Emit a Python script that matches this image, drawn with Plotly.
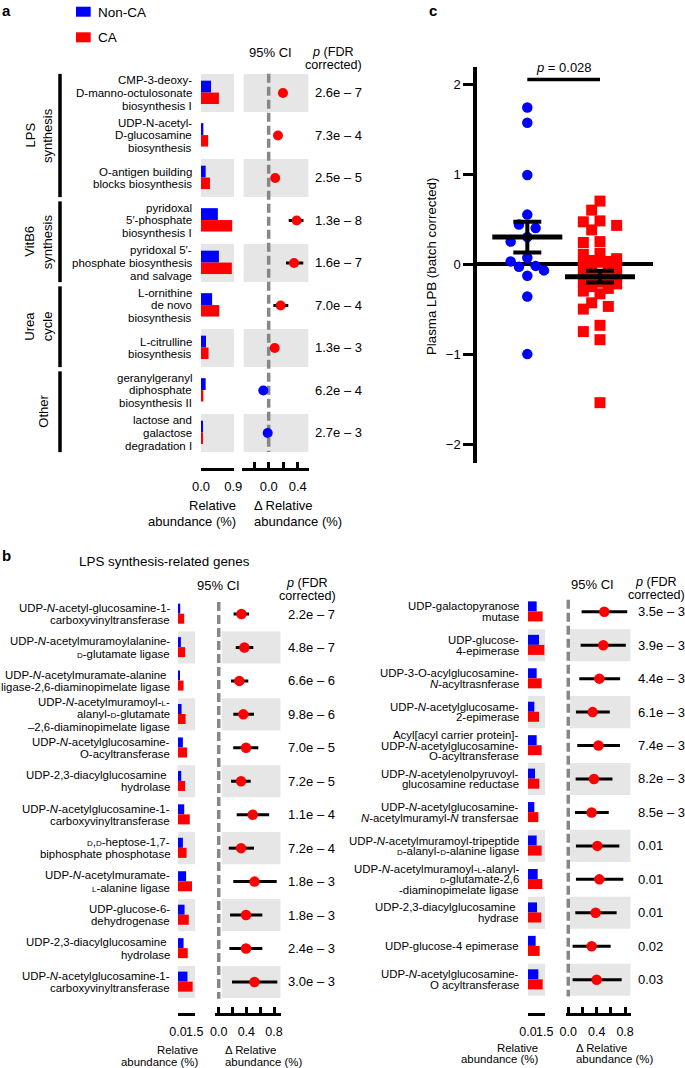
import plotly.graph_objects as go

W, H = 685, 1068
def X(px): return px / W
def Y(py): return 1 - py / H

FONT = "Liberation Sans, Arial, Helvetica, sans-serif"
BLUE = "#0000ff"
RED = "#ff0000"
BAND = "#e6e6e6"
DASHC = "#878787"
SC = '<span style="font-size:8px">{}</span>'

# ---------------- panel a data ----------------
a_labels = [
    ["CMP-3-deoxy-", "D-manno-octulosonate", "biosynthesis I"],
    ["UDP-N-acetyl-", "D-glucosamine", "biosynthesis"],
    ["O-antigen building", "blocks biosynthesis"],
    ["pyridoxal", "5\u2032-phosphate", "biosynthesis I"],
    ["pyridoxal 5\u2032-", "phosphate biosynthesis", "and salvage"],
    ["L-ornithine", "de novo", "biosynthesis"],
    ["L-citrulline", "biosynthesis"],
    ["geranylgeranyl", "diphosphate", "biosynthesis II"],
    ["lactose and", "galactose", "degradation I"],
]
a_groups = [["LPS", "synthesis"], ["VitB6", "synthesis"], ["Urea", "cycle"], ["Other"]]
a_group_rows = [(0, 2), (3, 4), (5, 6), (7, 8)]
a_nonca = [0.28, 0.065, 0.13, 0.47, 0.50, 0.31, 0.14, 0.13, 0.05]
a_ca = [0.50, 0.20, 0.25, 0.87, 0.86, 0.51, 0.21, 0.065, 0.03]
a_delta = [0.197, 0.128, 0.090, 0.386, 0.350, 0.165, 0.083, -0.074, -0.014]
a_lo = [0.160, 0.090, 0.050, 0.276, 0.239, 0.064, 0.045, -0.110, -0.050]
a_hi = [0.235, 0.165, 0.130, 0.480, 0.477, 0.270, 0.120, -0.040, 0.020]
a_p = ["2.6e \u2013 7", "7.3e \u2013 4", "2.5e \u2013 5", "1.3e \u2013 8", "1.6e \u2013 7",
       "7.0e \u2013 4", "1.3e \u2013 3", "6.2e \u2013 4", "2.7e \u2013 3"]

# ---------------- panel b data ----------------
bl_labels = [
    ["UDP-<i>N</i>-acetyl-glucosamine-1-", "carboxyvinyltransferase"],
    ["UDP-<i>N</i>-acetylmuramoylalanine-", SC.format("D") + "-glutamate ligase"],
    ["UDP-<i>N</i>-acetylmuramate-alanine\u00a0", "ligase-2,6-diaminopimelate ligase"],
    ["UDP-<i>N</i>-acetylmuramoyl-" + SC.format("L") + "-", "alanyl-" + SC.format("D") + "-glutamate", "\u20132,6-diaminopimelate ligase"],
    ["UDP-<i>N</i>-acetylglucosamine-", "O-acyltransferase"],
    ["UDP-2,3-diacylglucosamine\u00a0", "hydrolase"],
    ["UDP-<i>N</i>-acetylglucosamine-1-", "carboxyvinyltransferase"],
    [SC.format("D") + "," + SC.format("D") + "-heptose-1,7-", "biphosphate phosphotase"],
    ["UDP-<i>N</i>-acetylmuramate-", SC.format("L") + "-alanine ligase"],
    ["UDP-glucose-6-", "dehydrogenase"],
    ["UDP-2,3-diacylglucosamine\u00a0", "hydrolase"],
    ["UDP-<i>N</i>-acetylglucosamine-1-", "carboxyvinyltransferase"],
]
bl_nonca = [0.20, 0.26, 0.18, 0.32, 0.44, 0.29, 0.56, 0.44, 0.73, 0.59, 0.50, 0.85]
bl_ca = [0.56, 0.64, 0.50, 0.68, 0.82, 0.64, 1.06, 0.77, 1.26, 0.97, 0.88, 1.32]
bl_delta = [0.328, 0.371, 0.298, 0.356, 0.395, 0.323, 0.492, 0.323, 0.518, 0.395, 0.395, 0.518]
bl_lo = [0.215, 0.246, 0.178, 0.211, 0.210, 0.178, 0.260, 0.145, 0.211, 0.164, 0.154, 0.192]
bl_hi = [0.440, 0.500, 0.428, 0.511, 0.573, 0.463, 0.730, 0.511, 0.839, 0.631, 0.631, 0.848]
bl_p = ["2.2e \u2013 7", "4.8e \u2013 7", "6.6e \u2013 6", "9.8e \u2013 6", "7.0e \u2013 5", "7.2e \u2013 5",
        "1.1e \u2013 4", "7.2e \u2013 4", "1.8e \u2013 3", "1.8e \u2013 3", "2.4e \u2013 3", "3.0e \u2013 3"]

br_labels = [
    ["UDP-galactopyranose", "mutase"],
    ["UDP-glucose-", "4-epimerase"],
    ["UDP-3-O-acylglucosamine-", "<i>N</i>-acyltrasnferase"],
    ["UDP-<i>N</i>-acetylglucosame-", "2-epimerase"],
    ["Acyl[acyl carrier protein]-", "UDP-<i>N</i>-acetylglucosamine-", "O-acyltransferase"],
    ["UDP-<i>N</i>-acetylenolpyruvoyl-", "glucosamine reductase"],
    ["UDP-<i>N</i>-acetylglucosamine-", "<i>N</i>-acetylmuramyl-<i>N</i> transfersae"],
    ["UDP-<i>N</i>-acetylmuramoyl-tripeptide", SC.format("D") + "-alanyl-" + SC.format("D") + "-alanine ligase"],
    ["UDP-<i>N</i>-acetylmuramoyl-" + SC.format("L") + "-alanyl-", SC.format("D") + "-glutamate-2,6", "-diaminopimelate ligase"],
    ["UDP-2,3-diacylglucosamine\u00a0", "hydrase"],
    ["UDP-glucose-4 epimerase"],
    ["UDP-<i>N</i>-acetylglucosamine-", "O acyltransferase"],
]
br_nonca = [0.78, 0.99, 0.78, 0.57, 0.78, 0.63, 0.57, 0.78, 0.87, 0.81, 0.69, 0.93]
br_ca = [1.32, 1.47, 1.23, 0.99, 1.23, 1.02, 0.93, 1.23, 1.29, 1.20, 1.05, 1.32]
br_delta = [0.507, 0.493, 0.437, 0.343, 0.425, 0.362, 0.329, 0.409, 0.437, 0.385, 0.329, 0.400]
br_lo = [0.188, 0.174, 0.155, 0.108, 0.127, 0.104, 0.094, 0.108, 0.108, 0.099, 0.061, 0.061]
br_hi = [0.830, 0.810, 0.730, 0.585, 0.728, 0.622, 0.570, 0.719, 0.775, 0.681, 0.597, 0.752]
br_p = ["3.5e \u2013 3", "3.9e \u2013 3", "4.4e \u2013 3", "6.1e \u2013 3", "7.4e \u2013 3", "8.2e \u2013 3",
        "8.5e \u2013 3", "0.01", "0.01", "0.01", "0.02", "0.03"]

# ---------------- panel c data ----------------
c_nonca = [1.74, 1.57, 0.99, 0.55, 0.44, 0.40, 0.30, 0.25, 0.07, 0.03, -0.02, -0.03,
           -0.07, -0.13, -0.36, -1.00]
c_ca = [0.70, 0.60, 0.48, 0.47, 0.43, 0.38, 0.25, 0.24, 0.12, 0.11, 0.06, 0.04, 0.03,
        0.02, 0.00, -0.02, -0.05, -0.07, -0.10, -0.12, -0.13, -0.15, -0.17, -0.19, -0.20,
        -0.22, -0.25, -0.27, -0.30, -0.33, -0.43, -0.47, -0.50, -0.68, -0.75, -0.84, -1.54]
c_means = [0.30, -0.14]
c_sems = [0.17, 0.065]
c_pval = "<i>p</i> = 0.028"
c_ticks = [-2, -1, 0, 1, 2]
c_ticktext = ["\u22122", "\u22121", "0", "1", "2"]

fig = go.Figure()

# ---------- helpers ----------
def bars(non, ca, xa, ya, off_b, w_b, off_r, w_r):
    rows = list(range(len(non)))
    fig.add_trace(go.Bar(x=non, y=rows, orientation="h", offset=off_b, width=w_b,
                         marker=dict(color=BLUE, line=dict(width=0)), xaxis=xa, yaxis=ya,
                         showlegend=False, hoverinfo="skip"))
    fig.add_trace(go.Bar(x=ca, y=rows, orientation="h", offset=off_r, width=w_r,
                         marker=dict(color=RED, line=dict(width=0)), xaxis=xa, yaxis=ya,
                         showlegend=False, hoverinfo="skip"))

def forest(d, lo, hi, xa, ya, size):
    rows = list(range(len(d)))
    cols = [RED if v >= 0 else BLUE for v in d]
    fig.add_trace(go.Scatter(x=d, y=rows, mode="markers", xaxis=xa, yaxis=ya,
                             marker=dict(size=size, color=cols, line=dict(width=0)),
                             error_x=dict(type="data", symmetric=False,
                                          array=[h - v for h, v in zip(hi, d)],
                                          arrayminus=[v - l for v, l in zip(d, lo)],
                                          color="black", thickness=3, width=0),
                             showlegend=False, hoverinfo="skip"))

def text_lines(lines, x_px, yv, yref, spacing, size, xanchor="right"):
    n = len(lines)
    for k, t in enumerate(lines):
        fig.add_annotation(x=X(x_px), xref="paper", y=yv, yref=yref,
                           yshift=((n - 1) / 2 - k) * spacing, text=t, showarrow=False,
                           xanchor=xanchor, yanchor="middle", font=dict(size=size))

def ptext(lines, x_px, y_px, spacing, size, xanchor="center", yanchor="middle", bold=False):
    for k, t in enumerate(lines):
        fig.add_annotation(x=X(x_px), xref="paper", y=Y(y_px + k * spacing), yref="paper",
                           text=("<b>%s</b>" % t) if bold else t, showarrow=False,
                           xanchor=xanchor, yanchor=yanchor, font=dict(size=size))

def mtext(lines, x_px, y_mid_px, spacing, size, align="center"):
    # one annotation, tight line spacing: base size sets the line pitch
    txt = "<br>".join('<span style="font-size:%gpx">%s</span>' % (size, t) for t in lines)
    fig.add_annotation(x=X(x_px), xref="paper", y=Y(y_mid_px), yref="paper", text=txt,
                       showarrow=False, xanchor=align if align != "center" else "center",
                       yanchor="middle", align=align, font=dict(size=spacing / 1.3))

shapes = []
def bands(n, xref, x0, x1, yref, half, even_start):
    for i in range(n):
        if i % 2 == even_start:
            shapes.append(dict(type="rect", xref=xref, x0=x0, x1=x1, yref=yref,
                               y0=i - half, y1=i + half, fillcolor=BAND,
                               line=dict(width=0), layer="below"))

def dashed(xref, yref, y0, y1):
    shapes.append(dict(type="line", xref=xref, x0=0, x1=0, yref=yref, y0=y0, y1=y1,
                       line=dict(color=DASHC, width=3.5, dash="9px,4px"), layer="below"))

# ================= panel a =================
na = len(a_labels)
bars(a_nonca, a_ca, "x", "y", -0.29, 0.28, -0.01, 0.27)
forest(a_delta, a_lo, a_hi, "x2", "y", 10)
bands(na, "x domain", 0, 1, "y", 0.447, 0)
bands(na, "x2 domain", 0.025, 0.99, "y", 0.447, 0)
dashed("x2", "y", -0.45, na - 1 + 0.45)
for i, lines in enumerate(a_labels):
    text_lines(lines, 194, i, "y", 12.7, 11.5)
    fig.add_annotation(x=X(313), xref="paper", y=i, yref="y", text=a_p[i], showarrow=False,
                       xanchor="left", yanchor="middle", font=dict(size=13))
for g, (r0, r1) in zip(a_groups, a_group_rows):
    shapes.append(dict(type="line", xref="paper", x0=X(60), x1=X(60), yref="y",
                       y0=r0 - 0.45, y1=r1 + 0.45, line=dict(color="black", width=3.5)))
    yc = (r0 + r1) / 2
    xs = [30, 47.5] if len(g) == 2 else [44]
    for t, xp in zip(g, xs):
        fig.add_annotation(x=X(xp), xref="paper", y=yc, yref="y", text=t, textangle=-90,
                           showarrow=False, xanchor="center", yanchor="middle",
                           font=dict(size=13))
# legend
shapes.append(dict(type="rect", xref="paper", yref="paper", x0=X(76), x1=X(90.7),
                   y0=Y(16.7), y1=Y(6.7), fillcolor=BLUE, line=dict(width=0)))
shapes.append(dict(type="rect", xref="paper", yref="paper", x0=X(76), x1=X(90.7),
                   y0=Y(42.3), y1=Y(32.3), fillcolor=RED, line=dict(width=0)))
ptext(["Non-CA"], 96, 12, 0, 13.5, xanchor="left")
ptext(["CA"], 96, 38, 0, 13.5, xanchor="left")
ptext(["95% CI"], 270, 53, 0, 13)
mtext(["<i>p</i> (FDR", "corrected)"], 333, 58.5, 13, 12.6)
ptext(["Relative", "abundance (%)"], 238, 505, 16, 13, xanchor="right")
ptext(["\u0394 Relative", "abundance (%)"], 252, 505, 16, 13, xanchor="left")
fig.add_annotation(x=0, xref="paper", y=1, yref="paper", text="<b>a</b>", showarrow=False,
                   xanchor="left", yanchor="top", font=dict(size=15))

# ================= panel b =================
nb = len(bl_labels)
bars(bl_nonca, bl_ca, "x4", "y3", -0.31, 0.30, -0.01, 0.30)
forest(bl_delta, bl_lo, bl_hi, "x5", "y3", 10.5)
bands(nb, "x4 domain", 0, 1, "y3", 0.48, 1)
bands(nb, "x5", 0.043, 0.897, "y3", 0.48, 1)
dashed("x5", "y3", -0.36, nb - 0.5)
for i, lines in enumerate(bl_labels):
    text_lines(lines, 171.5, i, "y3", 12.3, 11.4)
    fig.add_annotation(x=X(285.5), xref="paper", y=i, yref="y3", text=bl_p[i], showarrow=False,
                       xanchor="left", yanchor="middle", font=dict(size=13))

bars(br_nonca, br_ca, "x6", "y4", -0.31, 0.30, -0.01, 0.30)
forest(br_delta, br_lo, br_hi, "x7", "y4", 10.5)
bands(nb, "x6 domain", 0, 1, "y4", 0.48, 1)
bands(nb, "x7", 0.024, 0.879, "y4", 0.48, 1)
dashed("x7", "y4", -0.36, nb - 0.5)
for i, lines in enumerate(br_labels):
    text_lines(lines, 521, i, "y4", 10.7, 11.4)
    fig.add_annotation(x=X(636), xref="paper", y=i, yref="y4", text=br_p[i], showarrow=False,
                       xanchor="left", yanchor="middle", font=dict(size=13))

ptext(["b"], 0, 555, 0, 15, xanchor="left", bold=True)
ptext(["LPS synthesis-related genes"], 164, 561, 0, 13.4)
ptext(["95% CI"], 218, 585, 0, 13)
mtext(["<i>p</i> (FDR", "corrected)"], 307, 589.5, 13, 12.6)
ptext(["95% CI"], 592, 584, 0, 13)
mtext(["<i>p</i> (FDR", "corrected)"], 656, 588.5, 13, 12.6)
ptext(["Relative", "abundance (%)"], 200, 1050, 12, 11.4, xanchor="right")
ptext(["\u0394 Relative", "abundance (%)"], 223, 1050, 12, 11.4, xanchor="left")
ptext(["Relative", "abundance (%)"], 540, 1047.5, 11.5, 11.4, xanchor="right")
ptext(["\u0394 Relative", "abundance (%)"], 574, 1047.5, 11.5, 11.4, xanchor="left")

# ================= panel c =================
PX_Y = 90.0   # px per unit of y (panel c)
PX_X = 72.7   # px per unit of x (panel c)
def swarm(vals, d, step, kmax=2):
    order = sorted(range(len(vals)), key=lambda i: -vals[i])
    placed, offs = [], [0.0] * len(vals)
    cands = [0]
    for k in range(1, kmax + 1):
        cands += [-k, k]
    for i in order:
        yy = vals[i] * PX_Y
        best, bestd = 0.0, -1.0
        for k in cands:
            xx = k * step
            md = min([((xx - a) ** 2 + (yy - b) ** 2) ** 0.5 for a, b in placed] or [1e9])
            if md >= d:
                best = xx
                break
            if md > bestd:
                best, bestd = xx, md
        placed.append((best, yy))
        offs[i] = best / PX_X
    return offs

off_b = swarm(c_nonca, 10.5, 8.33)
off_r = swarm(c_ca, 10.5, 8.33)
fig.add_trace(go.Scatter(x=[1 + o for o in off_b], y=c_nonca, mode="markers", xaxis="x3", yaxis="y2",
                         marker=dict(size=10.5, color=BLUE, symbol="circle", line=dict(width=0)),
                         showlegend=False, hoverinfo="skip"))
fig.add_trace(go.Scatter(x=[2 + o for o in off_r], y=c_ca, mode="markers", xaxis="x3", yaxis="y2",
                         marker=dict(size=11, color=RED, symbol="square", line=dict(width=0)),
                         showlegend=False, hoverinfo="skip"))
fig.add_trace(go.Scatter(x=[1, 2], y=c_means, mode="markers", xaxis="x3", yaxis="y2",
                         marker=dict(size=50, symbol="line-ew", line=dict(width=5, color="black")),
                         error_y=dict(type="data", array=c_sems, color="black", thickness=4, width=14),
                         showlegend=False, hoverinfo="skip"))
fig.add_trace(go.Scatter(x=[1, 2], y=[2.05, 2.05], mode="lines", xaxis="x3", yaxis="y2",
                         line=dict(color="black", width=3.5), showlegend=False, hoverinfo="skip"))
fig.add_annotation(x=1.5, xref="x3", y=2.05, yref="y2", yshift=12, text=c_pval, showarrow=False,
                   xanchor="center", yanchor="middle", font=dict(size=13))
fig.add_annotation(x=X(431), xref="paper", y=Y(267), yref="paper", text="Plasma LPB (batch corrected)",
                   textangle=-90, showarrow=False, xanchor="center", yanchor="middle",
                   font=dict(size=13.3))
fig.add_annotation(x=X(427), xref="paper", y=1, yref="paper", text="<b>c</b>", showarrow=False,
                   xanchor="left", yanchor="top", font=dict(size=15))

# ================= axes =================
def bottom_axis(domain, rng, anchor, tickvals, ticktext, size):
    return dict(domain=domain, range=rng, anchor=anchor, showline=True, linecolor="black",
                linewidth=2.5, ticks="inside", ticklen=6, tickwidth=2.5, tickcolor="black",
                tickvals=tickvals, ticktext=ticktext, tickangle=0, tickfont=dict(size=size),
                showgrid=False, zeroline=False, ticklabelstandoff=5, automargin=False)

hidden_y = lambda dom, rng: dict(domain=dom, range=rng, visible=False, showgrid=False,
                                 zeroline=False, automargin=False)

fig.update_layout(
    width=W, height=H, margin=dict(l=0, r=0, t=0, b=0, pad=0), autosize=False,
    paper_bgcolor="white", plot_bgcolor="white",
    font=dict(family=FONT, color="black", size=12),
    barmode="overlay", showlegend=False,
    xaxis=bottom_axis([X(201), X(234)], [0, 0.92], "y", [0, 0.9], ["0.0", "0.9"], 13),
    xaxis2=bottom_axis([X(242), X(309)], [-0.368, 0.556], "y", [-0.2, 0, 0.2, 0.4],
                       ["", "0.0", "", "0.4"], 13),
    yaxis=hidden_y([Y(468), Y(70)], [8.824, -0.541]),
    xaxis3=dict(domain=[X(477), X(653)], range=[0.308, 2.729], anchor="y2", visible=False,
                showgrid=False, zeroline=False, automargin=False),
    yaxis2=dict(domain=[Y(463), Y(67)], range=[-2.21, 2.19], anchor="x3", showline=True,
                linecolor="black", linewidth=3.5, ticks="outside", ticklen=10, tickwidth=3,
                tickcolor="black", tickvals=c_ticks, ticktext=c_ticktext,
                tickfont=dict(size=13), showgrid=False, zeroline=True,
                zerolinecolor="black", zerolinewidth=3.5, automargin=False),
    xaxis4=bottom_axis([X(178), X(195)], [0, 1.53], "y3", [0, 1.5], ["0.0", "1.5"], 12.5),
    xaxis5=bottom_axis([X(215), X(280.7)], [-0.054, 0.897], "y3", [0, 0.2, 0.4, 0.6, 0.8],
                       ["0.0", "", "0.4", "", "0.8"], 12.5),
    yaxis3=hidden_y([Y(1013), Y(590)], [11.928, -0.7175]),
    xaxis6=bottom_axis([X(528), X(545)], [0, 1.53], "y4", [0, 1.5], ["0.0", "1.5"], 12.5),
    xaxis7=bottom_axis([X(566), X(630.7)], [-0.032, 0.879], "y4", [0, 0.2, 0.4, 0.6, 0.8],
                       ["0.0", "", "0.4", "", "0.8"], 12.5),
    yaxis4=hidden_y([Y(1013), Y(590)], [11.996, -0.65]),
    shapes=shapes,
)

fig.write_html("out.html", config={"displayModeBar": False},
               post_script="document.body.style.margin='0px';document.body.style.overflow='hidden';")
